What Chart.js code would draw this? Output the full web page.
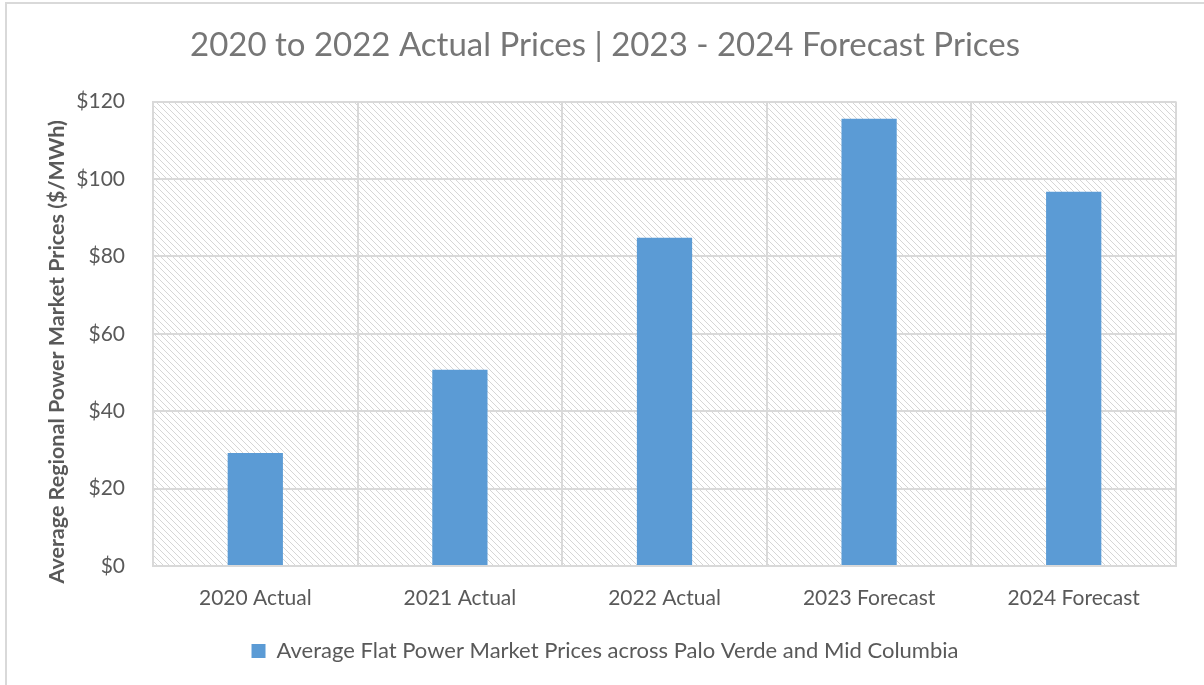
<!DOCTYPE html>
<html>
<head>
<meta charset="utf-8">
<script src="https://cdn.jsdelivr.net/npm/chart.js@4/dist/chart.umd.min.js"></script>
<style>
  html, body { margin: 0; padding: 0; background: #fff; }
  #wrap { width: 1204px; height: 685px; }
</style>
</head>
<body>
<div id="wrap"><canvas id="chart" width="1204" height="685"></canvas></div>
<script>
const categories = ['2020 Actual', '2021 Actual', '2022 Actual', '2023 Forecast', '2024 Forecast'];
const prices = [29.2, 50.7, 84.8, 115.6, 96.7];
const seriesName = 'Average Flat Power Market Prices across Palo Verde and Mid Columbia';
const yTicks = [0, 20, 40, 60, 80, 100, 120];
const yTitle = 'Average Regional Power Market Prices ($/MWh)';

const FONT = 'Lato, "Open Sans", sans-serif';
const GRID = '#d9d9d9';
const TEXT = '#595959';

// diagonal hatch used behind the plot area
function makeHatch() {
  const size = 6;
  const c = document.createElement('canvas');
  c.width = size;
  c.height = size;
  const g = c.getContext('2d');
  g.fillStyle = '#ffffff';
  g.fillRect(0, 0, size, size);
  g.fillStyle = '#d6d6d6';
  for (let y = 0; y < size; y++) {
    for (let x = 0; x < size; x++) {
      if ((x - y + size) % size === 0) g.fillRect(x, y, 1, 1);
    }
  }
  return g.createPattern(c, 'repeat');
}

const background = {
  id: 'background',
  beforeDraw(chart) {
    const { ctx, chartArea: a } = chart;
    ctx.save();
    ctx.fillStyle = '#fff';
    ctx.fillRect(0, 0, chart.width, chart.height);
    ctx.strokeStyle = GRID;
    ctx.lineWidth = 2;
    ctx.strokeRect(6, 3, chart.width + 20, chart.height + 20);
    ctx.fillStyle = makeHatch();
    ctx.fillRect(a.left, a.top, a.right - a.left, a.bottom - a.top);
    ctx.restore();
  },
  // y axis title, centred on axis labels + plot like the original
  afterDraw(chart) {
    const { ctx, chartArea: a } = chart;
    ctx.save();
    ctx.translate(57, (a.top + a.bottom) / 2 + 18);
    ctx.rotate(-Math.PI / 2);
    ctx.font = 'bold 21.5px ' + FONT;
    ctx.fillStyle = TEXT;
    ctx.textAlign = 'center';
    ctx.textBaseline = 'middle';
    ctx.fillText(yTitle, 0, 0);
    ctx.restore();
  },
};

new Chart(document.getElementById('chart'), {
  type: 'bar',
  data: {
    labels: categories,
    datasets: [{
      label: seriesName,
      data: prices,
      backgroundColor: '#5b9bd5',
      borderWidth: 0,
      barPercentage: 0.27,
      categoryPercentage: 1,
    }],
  },
  options: {
    responsive: false,
    animation: false,
    layout: {
      padding: { left: 34, right: 28, top: 18, bottom: 13 },
    },
    scales: {
      x: {
        afterFit: scale => {
          scale.height = 58;
        },
        grid: { color: GRID, lineWidth: 2, drawTicks: false },
        border: { color: GRID, width: 2 },
        ticks: {
          color: TEXT,
          font: { family: FONT, size: 21 },
          padding: 20,
        },
      },
      y: {
        min: 0,
        max: 120,
        afterBuildTicks: scale => {
          scale.ticks = yTicks.map(v => ({ value: v }));
        },
        afterFit: scale => {
          scale.width = 119;
        },
        grid: { color: GRID, lineWidth: 2, drawTicks: false },
        border: { color: GRID, width: 2 },
        ticks: {
          color: TEXT,
          font: { family: FONT, size: 21 },
          padding: 28,
          callback: value => '$' + value,
        },
      },
    },
    plugins: {
      title: {
        display: true,
        text: '2020 to 2022 Actual Prices | 2023 - 2024 Forecast Prices',
        color: '#767676',
        font: { family: FONT, size: 33, weight: 'normal' },
        padding: { top: 8, bottom: 36 },
      },
      legend: {
        position: 'bottom',
        labels: {
          color: TEXT,
          font: { family: FONT, size: 22 },
          boxWidth: 14,
          boxHeight: 14,
          padding: 16,
        },
      },
      tooltip: { enabled: false },
    },
  },
  plugins: [background],
});
</script>
</body>
</html>
